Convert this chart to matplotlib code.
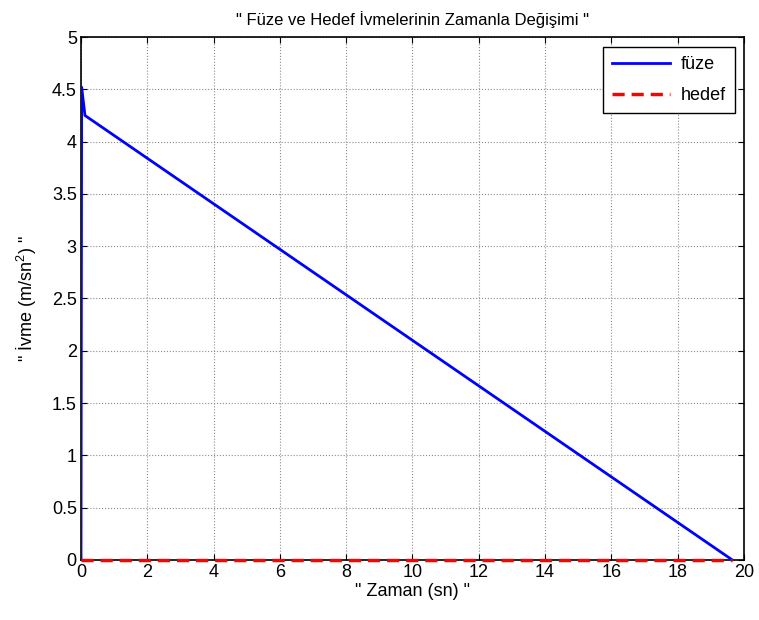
import matplotlib
matplotlib.use("Agg")
import matplotlib.pyplot as plt

# missile / target acceleration over time
t_fuze = [0.0, 0.02, 0.12, 19.65]
a_fuze = [0.0, 4.52, 4.25, 0.0]
t_hedef = [0.0, 19.65]
a_hedef = [0.0, 0.0]

plt.rcParams['font.family'] = ['Liberation Sans', 'DejaVu Sans']
plt.rcParams['mathtext.fontset'] = 'custom'
plt.rcParams['mathtext.rm'] = 'Liberation Sans'
plt.rcParams['mathtext.it'] = 'Liberation Sans'

fig = plt.figure(figsize=(7.59, 6.2), dpi=100)
ax = fig.add_axes([0.1067, 0.0968, 0.8735, 0.8435])

ax.plot(t_fuze, a_fuze, color='#0000ff', lw=2, label='füze', zorder=3)
ax.plot(t_hedef, a_hedef, color='#ff0000', lw=2.5, ls='--', dashes=(3.5, 2),
        label='hedef', zorder=4, clip_on=False)

ax.set_xlim(0, 20)
ax.set_ylim(0, 5)
ax.set_xticks(range(0, 21, 2))
ax.set_yticks([0, 0.5, 1, 1.5, 2, 2.5, 3, 3.5, 4, 4.5, 5])
ax.set_yticklabels(['0', '0.5', '1', '1.5', '2', '2.5', '3', '3.5', '4', '4.5', '5'])
ax.tick_params(direction='in', top=True, right=True, labelsize=13, length=4, pad=3)
ax.grid(True, color='#8c8c8c', ls=':', lw=0.8)
for s in ax.spines.values():
    s.set_linewidth(1.2)

ax.set_title('" Füze ve Hedef İvmelerinin Zamanla Değişimi "', fontsize=12, pad=9)
ax.set_xlabel('" Zaman (sn) "', fontsize=13, labelpad=1)
ax.set_ylabel('" İvme (m/sn$^2$) "', fontsize=13, labelpad=9)

leg = ax.legend(loc='upper right', bbox_to_anchor=(0.986, 0.981), borderaxespad=0,
                fancybox=False, framealpha=1, edgecolor='black', fontsize=13,
                handlelength=3.2, handletextpad=0.6, borderpad=0.5, labelspacing=0.8)
leg.get_frame().set_linewidth(1.0)

fig.savefig('out.png', dpi=100)
